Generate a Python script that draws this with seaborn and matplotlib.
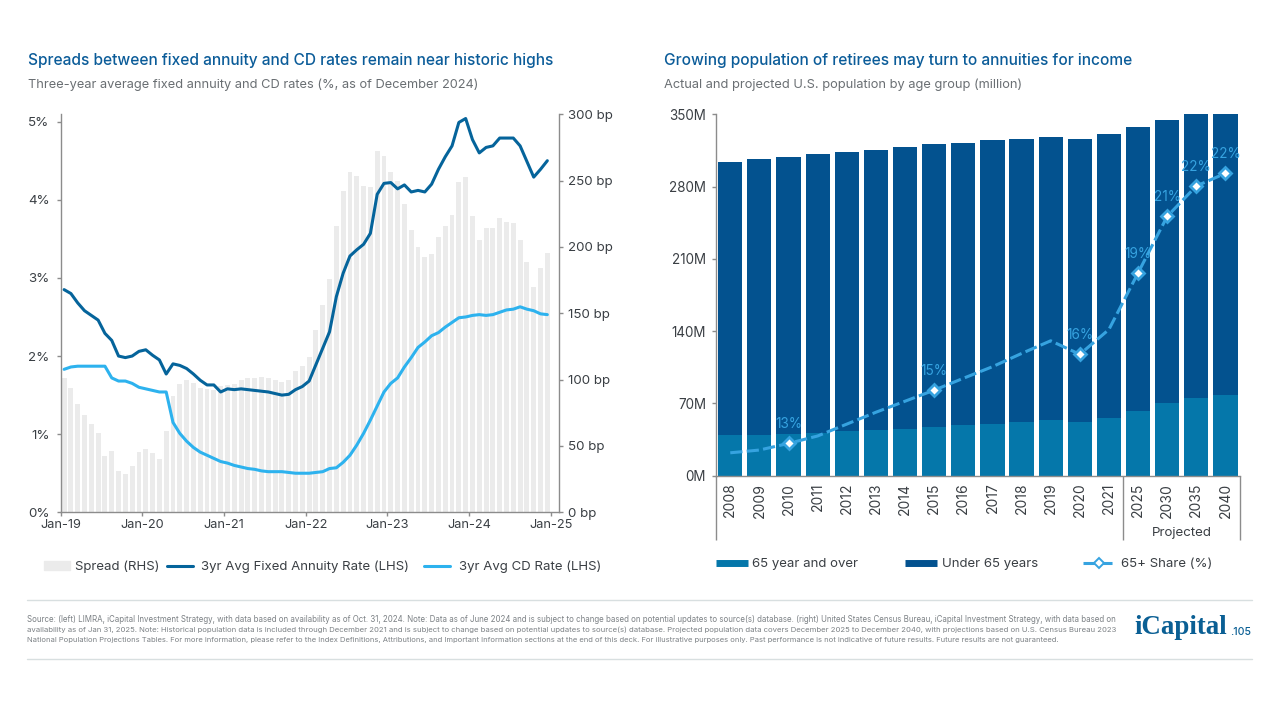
#!/usr/bin/env python3
"""
Annuity spreads and retiree population, two panel slide
"""

import numpy as np
import pandas as pd
import matplotlib
matplotlib.use('Agg')
import matplotlib.pyplot as plt
import seaborn as sns
from matplotlib.lines import Line2D
from matplotlib.patches import Patch

# left panel, monthly Jan-19 to Dec-24
months = pd.date_range('2019-01-01', periods=72, freq='MS').strftime('%b-%y').tolist()
spread_bp = [101.5, 94, 82, 73, 66.5, 59.5, 42.5, 46.5, 31.5, 29, 35, 45.5,
             48, 44.5, 40, 61, 88, 96.5, 99.5, 97.5, 94, 93, 92, 95,
             96, 97, 100, 101.5, 101.5, 102, 101.5, 100, 98, 100, 106.5, 110.5,
             117, 137.5, 156, 176, 216, 242, 256.5, 253.5, 246, 245.5, 272.5, 268.5,
             256.5, 250, 232.5, 212.5, 200, 192.5, 194.5, 207.5, 216, 224, 249, 253,
             223, 205.5, 214, 214, 222, 219, 218, 205.5, 188.5, 170, 184.5, 195.5]
annuity_rate = [2.85, 2.80, 2.68, 2.58, 2.52, 2.46, 2.29, 2.20, 2.00, 1.98, 2.00, 2.06,
                2.08, 2.01, 1.95, 1.77, 1.90, 1.88, 1.84, 1.77, 1.69, 1.63, 1.63, 1.54,
                1.58, 1.57, 1.58, 1.57, 1.56, 1.55, 1.54, 1.52, 1.50, 1.51, 1.57, 1.61,
                1.68, 1.89, 2.10, 2.31, 2.76, 3.06, 3.28, 3.36, 3.43, 3.57, 4.07, 4.21,
                4.22, 4.14, 4.19, 4.10, 4.12, 4.10, 4.20, 4.39, 4.55, 4.69, 4.99, 5.04,
                4.77, 4.60, 4.67, 4.69, 4.79, 4.79, 4.79, 4.69, 4.49, 4.29, 4.39, 4.50]
cd_rate = [1.83, 1.86, 1.87, 1.87, 1.87, 1.87, 1.87, 1.72, 1.68, 1.68, 1.65, 1.60,
           1.58, 1.56, 1.54, 1.54, 1.15, 1.01, 0.91, 0.83, 0.77, 0.73, 0.69, 0.65,
           0.63, 0.60, 0.58, 0.56, 0.55, 0.53, 0.52, 0.52, 0.52, 0.51, 0.50, 0.50,
           0.50, 0.51, 0.52, 0.56, 0.57, 0.64, 0.73, 0.86, 1.01, 1.18, 1.36, 1.54,
           1.65, 1.72, 1.86, 1.98, 2.11, 2.18, 2.26, 2.30, 2.37, 2.43, 2.49, 2.50,
           2.52, 2.53, 2.52, 2.53, 2.56, 2.59, 2.60, 2.63, 2.60, 2.58, 2.54, 2.53]
left_ticks = ['Jan-19', 'Jan-20', 'Jan-21', 'Jan-22', 'Jan-23', 'Jan-24', 'Jan-25']
pct_ticks = [0, 1, 2, 3, 4, 5]
bp_ticks = [0, 50, 100, 150, 200, 250, 300]

# right panel, population in millions
years = ['2008', '2009', '2010', '2011', '2012', '2013', '2014', '2015', '2016',
         '2017', '2018', '2019', '2020', '2021', '2025', '2030', '2035', '2040']
over_65 = [39, 39.4, 40, 41, 43, 44.2, 45.5, 47.5, 49, 50.4, 52, 53.6, 52.3, 55.8, 63, 70.7, 75.5, 78]
under_65 = [264.4, 266.9, 268.9, 270.2, 270.4, 271.5, 272.8, 273.4, 273.5,
            275, 274.3, 274, 273.4, 275.4, 274.3, 273.7, 274.5, 272]
share_line = [12.63, 12.73, 12.97, 13.24, 13.67, 14.1, 14.5, 14.9, 15.33,
              15.75, 16.23, 16.69, 16.2, 17.1, 19.15, 21.2, 22.3, 22.76]
marked_years = ['2010', '2015', '2020', '2025', '2030', '2035', '2040']
marked_labels = ['13%', '15%', '16%', '19%', '21%', '22%', '22%']
pop_ticks = [0, 70, 140, 210, 280, 350]

FONT = 'Inter'
BLUE_TITLE = '#0b5c99'
GREY_TEXT = '#6a6f73'
DARK_TEXT = '#3a3f44'
AXIS_GREY = '#8c8c8c'
BAR_GREY = '#ebebeb'
DARK_LINE = '#05649b'
LIGHT_LINE = '#2db2ee'
BAR_OVER = '#0577aa'
BAR_UNDER = '#03528f'
SHARE_LINE = '#36a3e0'

W, H = 1280, 720


def px_axes(fig, x0, y_top, x1, y_bottom):
    """axes from pixel box of the slide"""
    return fig.add_axes([x0 / W, 1 - y_bottom / H, (x1 - x0) / W, (y_bottom - y_top) / H])


def legend_entry(fig, handle, label, x, y, **kw):
    fig.legend([handle], [label], loc='center left', bbox_to_anchor=(x / W, 1 - y / H),
               frameon=False, fontsize=9.5, labelcolor=DARK_TEXT, borderpad=0,
               borderaxespad=0, **kw)


def draw_left(fig):
    ax_bp = px_axes(fig, 60.7, 114.3, 558.7, 512.3)
    frame = pd.DataFrame({'month': months, 'spread': spread_bp})
    sns.barplot(data=frame, x='month', y='spread', color=BAR_GREY, saturation=1,
                width=0.72, linewidth=0, ax=ax_bp)
    ax_bp.set_xlim(-0.5, 72.67)
    ax_bp.set_ylim(0, 300)
    ax_bp.set_xlabel('')
    ax_bp.set_ylabel('')
    ax_bp.set_xticks(np.arange(-0.5, 72, 12))
    ax_bp.set_xticklabels(left_ticks, fontsize=9.2, color=DARK_TEXT)

    ax_pct = ax_bp.twinx()
    x_pos = np.arange(len(months))
    sns.lineplot(x=x_pos, y=annuity_rate, color=DARK_LINE, lw=2.2, ax=ax_pct)
    sns.lineplot(x=x_pos, y=cd_rate, color=LIGHT_LINE, lw=2.2, ax=ax_pct)
    ax_pct.set_ylim(0, 5.094)
    ax_pct.yaxis.tick_left()
    ax_pct.set_yticks(pct_ticks)
    ax_pct.set_yticklabels([f'{v}%' for v in pct_ticks], fontsize=9.6, color=DARK_TEXT)
    ax_pct.tick_params(axis='y', left=True, right=False, length=3, width=1, color=AXIS_GREY, pad=5)

    # twinx moved these to the left, so set the right side only now
    ax_bp.yaxis.tick_right()
    ax_bp.set_yticks(bp_ticks)
    ax_bp.set_yticklabels([f'{v} bp' for v in bp_ticks], fontsize=9.6, color=DARK_TEXT)
    ax_bp.tick_params(axis='y', right=True, left=False, length=3, width=1, color=AXIS_GREY, pad=3.5)
    ax_bp.tick_params(axis='x', bottom=True, length=3, width=1, color=AXIS_GREY, pad=2)

    for a in (ax_bp, ax_pct):
        for side in a.spines:
            a.spines[side].set_visible(False)
    for a, side in ((ax_pct, 'left'), (ax_bp, 'bottom'), (ax_bp, 'right')):
        a.spines[side].set_visible(True)
        a.spines[side].set_color(AXIS_GREY)
        a.spines[side].set_linewidth(1)

    legend_entry(fig, Patch(color=BAR_GREY), 'Spread (RHS)', 44, 567,
                 handlelength=1.96, handleheight=0.75, handletextpad=0.4)
    legend_entry(fig, Line2D([], [], color=DARK_LINE, lw=2.2), '3yr Avg Fixed Annuity Rate (LHS)', 167, 567,
                 handlelength=1.96, handletextpad=0.6)
    legend_entry(fig, Line2D([], [], color=LIGHT_LINE, lw=2.2), '3yr Avg CD Rate (LHS)', 424, 567,
                 handlelength=1.96, handletextpad=0.7)


def draw_right(fig):
    ax = px_axes(fig, 715.7, 114.3, 1240, 475.7)
    frame = pd.DataFrame({'year': years, 'over': over_65, 'under': under_65})
    frame['total'] = frame['over'] + frame['under']
    # stack by overlaying the total behind the lower part
    sns.barplot(data=frame, x='year', y='total', color=BAR_UNDER, saturation=1, width=0.83,
                linewidth=0, ax=ax)
    sns.barplot(data=frame, x='year', y='over', color=BAR_OVER, saturation=1, width=0.83,
                linewidth=0, ax=ax)
    ax.set_xlim(-0.5, 17.5)
    ax.set_ylim(0, 350)
    ax.set_xlabel('')
    ax.set_ylabel('')
    ax.set_yticks(pop_ticks)
    ax.set_yticklabels([f'{v}M' for v in pop_ticks], fontsize=9.7, color=DARK_TEXT)
    ax.tick_params(axis='y', left=True, length=3, width=1, color=AXIS_GREY, pad=4)
    ax.set_xticks(np.arange(len(years)))
    ax.set_xticklabels(years, rotation=90, fontsize=10, color=DARK_TEXT)
    ax.tick_params(axis='x', which='major', bottom=False, length=0, pad=5)
    # long separators under the axis
    ax.set_xticks([-0.5, 13.5, 17.5], minor=True)
    ax.tick_params(axis='x', which='minor', bottom=True, length=46, width=1, color=AXIS_GREY)
    ax.text(15.5, -55.5, 'Projected', ha='center', va='center', fontsize=9.6, color=DARK_TEXT,
            clip_on=False)

    for side in ('top', 'right'):
        ax.spines[side].set_visible(False)
    for side in ('left', 'bottom'):
        ax.spines[side].set_color(AXIS_GREY)
        ax.spines[side].set_linewidth(1)

    ax_share = ax.twinx()
    x_pos = np.arange(len(years))
    sns.lineplot(x=x_pos, y=share_line, color=SHARE_LINE, lw=2.2, ax=ax_share,
                 linestyle=(0, (4, 1.4)))
    ax_share.set_ylim(11.8, 24.9)
    ax_share.axis('off')
    for yr, lab in zip(marked_years, marked_labels):
        i = years.index(yr)
        ax_share.plot(i, share_line[i], marker='D', ms=6, mfc='white', mec=SHARE_LINE, mew=2,
                      ls='none', zorder=5)
        ax_share.annotate(lab, (i, share_line[i]), xytext=(0, 13.7), textcoords='offset points',
                          ha='center', va='center', fontsize=9.8, color=SHARE_LINE, zorder=6)

    legend_entry(fig, Line2D([], [], color=BAR_OVER, lw=5, solid_capstyle='butt'), '65 year and over', 716, 564,
                 handlelength=2.4, handletextpad=0.3)
    legend_entry(fig, Line2D([], [], color=BAR_UNDER, lw=5, solid_capstyle='butt'), 'Under 65 years', 905, 564,
                 handlelength=2.4, handletextpad=0.4)
    legend_entry(fig, Line2D([], [], color=SHARE_LINE, lw=2.2, ls=(0, (4, 1.5)), marker='D', ms=5,
                             mfc='white', mec=SHARE_LINE, mew=1.4), '65+ Share (%)', 1083, 564,
                 handlelength=2.5, handletextpad=0.4)


def draw_text(fig):
    def put(x, y, s, **kw):
        fig.text(x / W, 1 - y / H, s, va='center', **kw)

    put(28, 60, 'Spreads between fixed annuity and CD rates remain near historic highs',
        fontsize=11.15, color=BLUE_TITLE, weight='medium')
    put(664, 60, 'Growing population of retirees may turn to annuities for income',
        fontsize=11.15, color=BLUE_TITLE, weight='medium')
    put(28, 85, 'Three-year average fixed annuity and CD rates (%, as of December 2024)',
        fontsize=9.23, color=GREY_TEXT)
    put(664, 85, 'Actual and projected U.S. population by age group (million)',
        fontsize=9.23, color=GREY_TEXT)

    foot = [
        'Source: (left) LIMRA, iCapital Investment Strategy, with data based on availability as of Oct. 31, 2024. '
        'Note: Data as of June 2024 and is subject to change based on potential updates to source(s) database. '
        '(right) United States Census Bureau, iCapital Investment Strategy, with data based on',
        'availability as of Jan 31, 2025. Note: Historical population data is included through December 2021 and is '
        'subject to change based on potential updates to source(s) database. Projected population data covers '
        'December 2025 to December 2040, with projections based on U.S. Census Bureau 2023',
        'National Population Projections Tables. For more information, please refer to the Index Definitions, '
        'Attributions, and Important Information sections at the end of this deck. For illustrative purposes only. '
        'Past performance is not indicative of future results. Future results are not guaranteed.',
    ]
    for y, line, size in zip((620, 630, 640), foot, (5.69, 5.58, 5.48)):
        put(27, y, line, fontsize=size, color='#7c8185')

    for y in (599.5, 659):
        fig.add_artist(Line2D([27 / W, 1252 / W], [1 - y / H] * 2, color='#d8dfe0', lw=1))
    put(1134, 628, 'iCapital', fontsize=19.4, color='#0a5f94', family='Liberation Serif', weight='bold')
    put(1230, 632, '.105', fontsize=7.6, color='#0a5f94', weight='medium')


def main():
    sns.set_theme(style='white')
    plt.rcParams['font.family'] = [FONT, 'DejaVu Sans']
    fig = plt.figure(figsize=(12.8, 7.2), dpi=100, facecolor='white')
    draw_left(fig)
    draw_right(fig)
    draw_text(fig)
    fig.savefig('out.png', dpi=100)
    plt.close(fig)


if __name__ == "__main__":
    main()
